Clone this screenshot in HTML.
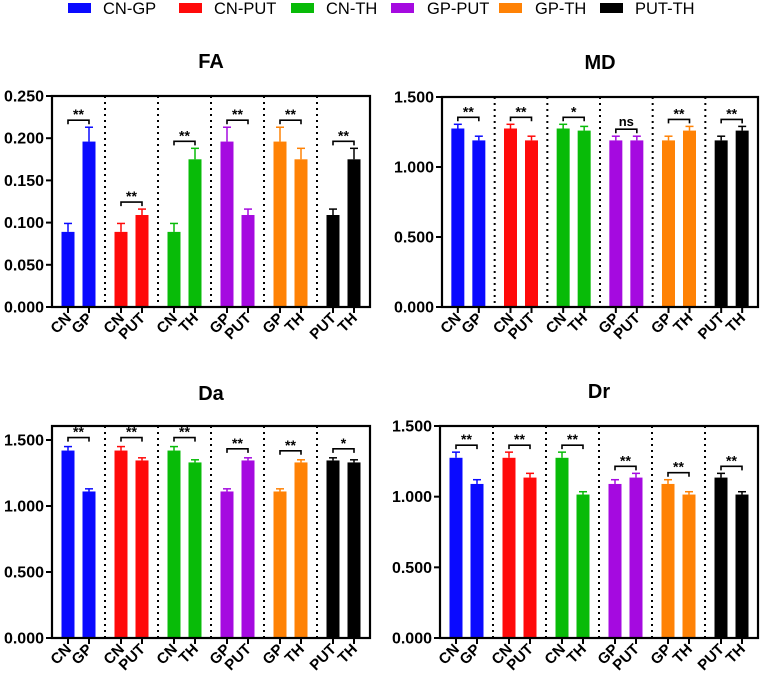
<!DOCTYPE html>
<html><head><meta charset="utf-8">
<style>
html,body{margin:0;padding:0;background:#fff;}
body{width:770px;height:685px;overflow:hidden;font-family:"Liberation Sans",Arial,sans-serif;}
</style></head>
<body>
<svg id="chart" width="770" height="685" viewBox="0 0 770 685" xmlns="http://www.w3.org/2000/svg"></svg>
<script>
const legendNames = ["CN-GP","CN-PUT","CN-TH","GP-PUT","GP-TH","PUT-TH"];
const colors = ["#0a0aff","#ff0a0a","#08bb08","#a50ae0","#ff8205","#000000"];
const pairs = [["CN","GP"],["CN","PUT"],["CN","TH"],["GP","PUT"],["GP","TH"],["PUT","TH"]];
const faMean = {CN:0.089, GP:0.196, PUT:0.109, TH:0.175};
const faErr  = {CN:0.010, GP:0.017, PUT:0.007, TH:0.013};
const mdMean = {CN:1.275, GP:1.19, PUT:1.19, TH:1.26};
const mdErr  = {CN:0.030, GP:0.030, PUT:0.030, TH:0.030};
const daMean = {CN:1.42, GP:1.11, PUT:1.345, TH:1.33};
const daErr  = {CN:0.030, GP:0.020, PUT:0.020, TH:0.020};
const drMean = {CN:1.275, GP:1.09, PUT:1.135, TH:1.015};
const drErr  = {CN:0.040, GP:0.030, PUT:0.030, TH:0.020};
const faSig = ["**","**","**","**","**","**"];
const mdSig = ["**","**","*","ns","**","**"];
const daSig = ["**","**","**","**","**","*"];
const drSig = ["**","**","**","**","**","**"];
const faTicks = [0,0.05,0.1,0.15,0.2,0.25];
const bigTicks = [0,0.5,1.0,1.5];

const NS="http://www.w3.org/2000/svg";
const svg=document.getElementById('chart');
function mk(tag,attrs,parent){const e=document.createElementNS(NS,tag);for(const k in attrs)e.setAttribute(k,attrs[k]);(parent||svg).appendChild(e);return e;}

// legend
const legRectX=[68,179,291,391,499,600];
const legTextX=[103,214,326,427,535,635];
const legG=mk('g',{});


legendNames.forEach((n,i)=>{
  const g=mk('g',{},legG);
  
  
  mk('rect',{x:legRectX[i],y:3,width:23,height:10,fill:colors[i]},g);
  const t=mk('text',{x:legTextX[i],y:14,'font-size':16.5,fill:'#000'},g);
  t.textContent=n;
});

function panel(name,title,L,T,R,B,ymax,ticks,mean,err,sig,boff){
  const g=mk('g',{});
  
  
  const y=v=>B-(v/ymax)*(B-T);
  const gw=(R-L)/6;
  const tt=mk('text',{x:(L+R)/2,y:title==='Da'?400:T-28,'font-size':20,'font-weight':'bold','text-anchor':'middle'},g);
  tt.textContent=title;
  
  
  for(let i=1;i<6;i++){
    const x=L+gw*i;
    mk('line',{x1:x,x2:x,y1:T,y2:B,stroke:'#000','stroke-width':2,'stroke-dasharray':'2,4'},g);
  }
  pairs.forEach((p,gi)=>{
    const c=L+gw*(gi+0.5);
    let top=Infinity;
    p.forEach((k,bi)=>{
      const cx=c+(bi?10.5:-10.5);
      const v=mean[k], e=err[k];
      const r=mk('rect',{x:cx-6.5,y:y(v),width:13,height:B-y(v),fill:colors[gi]},g);
      
      
      mk('line',{x1:cx,x2:cx,y1:y(v),y2:y(v+e),stroke:colors[gi],'stroke-width':1.5},g);
      mk('line',{x1:cx-4,x2:cx+4,y1:y(v+e),y2:y(v+e),stroke:colors[gi],'stroke-width':1.5},g);
      top=Math.min(top,y(v+e));
      mk('line',{x1:cx,x2:cx,y1:B,y2:B+6,stroke:'#000','stroke-width':2},g);
      const lx=cx+4, ly=B+12;
      const lt=mk('text',{x:lx,y:ly,'font-size':15,'font-weight':'bold','text-anchor':'end',transform:`rotate(-45 ${lx} ${ly})`},g);
      lt.textContent=k;
    });
    const by=top-boff;
    mk('path',{d:`M${c-10.5} ${by+4}V${by}H${c+10.5}V${by+4}`,fill:'none',stroke:'#000','stroke-width':1.6},g);
    const st=mk('text',{x:c,y:sig[gi]==='ns'?by-3:by-1,'font-size':sig[gi]==='ns'?13:14,'font-weight':'bold','text-anchor':'middle'},g);
    st.textContent=sig[gi];
  });
  mk('rect',{x:L,y:T,width:R-L,height:B-T,fill:'none',stroke:'#000','stroke-width':2.2},g);
  ticks.forEach(tv=>{
    const yy=y(tv);
    mk('line',{x1:L-6,x2:L,y1:yy,y2:yy,stroke:'#000','stroke-width':2},g);
    const t=mk('text',{x:L-8,y:yy+5.5,'font-size':16,'font-weight':'bold','text-anchor':'end'},g);
    t.textContent=tv.toFixed(3);
  });
}
panel('fa','FA',52,96,370,307,0.25,faTicks,faMean,faErr,faSig,7);
panel('md','MD',442,97,758,307,1.5,bigTicks,mdMean,mdErr,mdSig,7);
panel('da','Da',52,426,370,638,1.606,bigTicks,daMean,daErr,daSig,9);
panel('dr','Dr',440,426,758,638,1.5,bigTicks,drMean,drErr,drSig,7);
</script>
</body></html>
